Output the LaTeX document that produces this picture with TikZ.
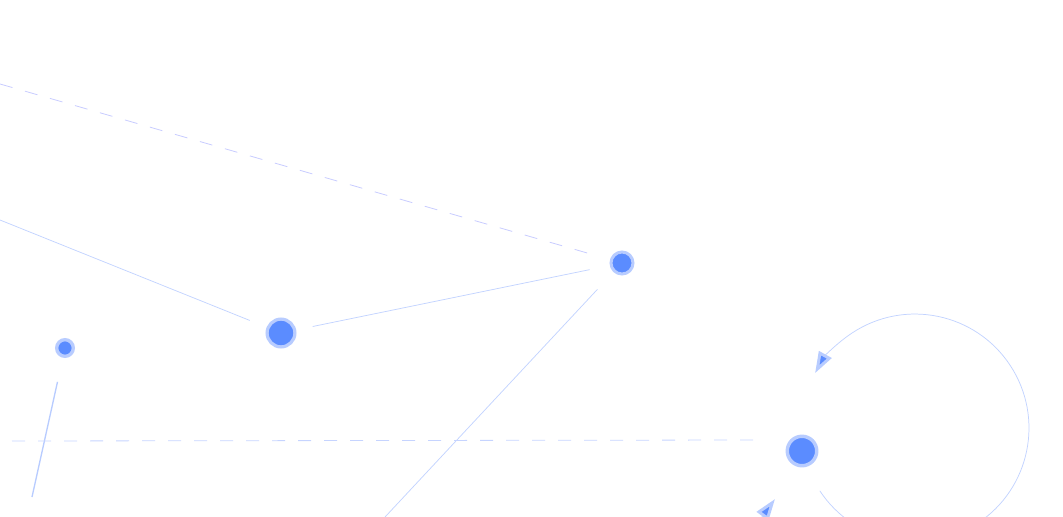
\documentclass[tikz,border=0pt]{standalone}
\usetikzlibrary{arrows.meta}
\definecolor{nodefill}{HTML}{5B8CFF}
\definecolor{nodering}{HTML}{B8CCFF}
\definecolor{edgecol}{HTML}{C2D3FF}
\definecolor{dashcol}{HTML}{C8CCFF}
\definecolor{hdashcol}{HTML}{C6D4FF}
\begin{document}
\begin{tikzpicture}[x=0.75pt,y=-0.75pt,
  vertex/.style={circle, fill=nodefill, draw=nodering, inner sep=0pt},
  edge/.style={draw=edgecol, line width=0.55pt},
  dashedge/.style={draw=dashcol, line width=0.6pt, dash pattern=on 9.75pt off 9.75pt},
  tipstyle/.style={-{Triangle[length=16pt,width=10.5pt,fill=nodefill,color=nodering,line width=2.2pt]}}
]
\useasboundingbox (0,0) rectangle (1063,517);
\clip (0,0) rectangle (1063,517);

% nodes
\node[vertex, line width=2.5pt, minimum size=12.5pt] (A) at (65,348) {};
\node[vertex, line width=2.4pt, minimum size=20.85pt] (B) at (281,333) {};
\node[vertex, line width=2.25pt, minimum size=16.5pt] (C) at (622,263) {};
\node[vertex, line width=2.6pt, minimum size=22.1pt] (D) at (802,451) {};

% free ends
\coordinate (topleft) at (-50,69.6);
\coordinate (midleft) at (-50,199.9);
\coordinate (cbottom) at (366,537.4);
\coordinate (aend) at (32,497);
\coordinate (hl) at (12,441);
\coordinate (hr) at (760,440);
\coordinate (loopstart) at (819.8,490.8);
\coordinate (t2s) at (745,540);
\coordinate (t2e) at (775,499);

% connectors
\draw[dashedge, shorten >=17.9pt] (topleft) -- (C.center);
\draw[edge, shorten >=25.2pt] (midleft) -- (B.center);
\draw[edge, shorten <=24.3pt, shorten >=24.75pt] (B.center) -- (C.center);
\draw[edge, shorten <=27pt] (C.center) -- (cbottom);
\draw[draw=edgecol!90!nodefill, line width=1pt, shorten <=26pt] (A.center) -- (aend);
\draw[draw=hdashcol, line width=0.6pt, dash pattern=on 9.75pt off 9.75pt] (hl) -- (hr);
\draw[edge, tipstyle] (loopstart) arc[start angle=146.6, end angle=-151.2, radius=114];
\draw[edge, tipstyle] (t2s) -- (t2e);
\end{tikzpicture}
\end{document}
